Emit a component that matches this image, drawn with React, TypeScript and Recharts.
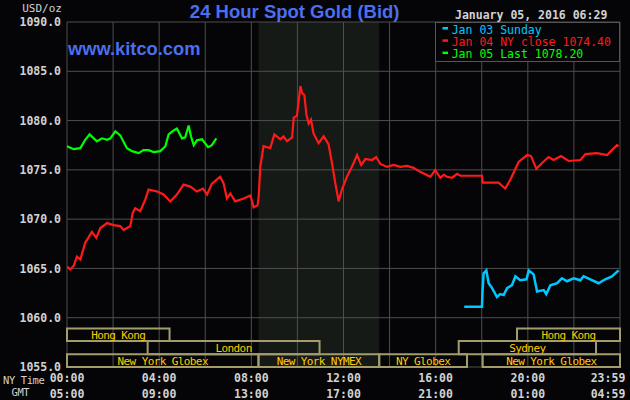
import React from "react";
import { LineChart, Line, XAxis, YAxis, CartesianGrid, ReferenceArea, Legend } from "recharts";

// hours after midnight NY time
const yTicks = [1055, 1060, 1065, 1070, 1075, 1080, 1085, 1090];
const xTicks = [0, 2, 4, 6, 8, 10, 12, 14, 16, 18, 20, 22, 24];
const nyTimeLabels = ["00:00", "04:00", "08:00", "12:00", "16:00", "20:00", "23:59"];
const gmtLabels = ["05:00", "09:00", "13:00", "17:00", "21:00", "01:00", "04:59"];

const jan03Hours = [17.24, 18.01, 18.03, 18.08, 18.2, 18.3, 18.45, 18.66, 18.8, 18.95, 19.1, 19.31, 19.46, 19.67, 19.94, 20.04, 20.25, 20.4, 20.69, 20.8, 20.98, 21.27, 21.48, 21.7, 21.99, 22.28, 22.42, 22.71, 23.07, 23.36, 23.65, 23.94];
const jan03Prices = [1061.1, 1061.1, 1062.5, 1064.5, 1064.8, 1063.5, 1063.0, 1062.1, 1062.4, 1062.3, 1063.0, 1063.3, 1064.2, 1063.8, 1063.9, 1064.8, 1064.4, 1062.65, 1062.8, 1062.4, 1063.3, 1063.5, 1064.0, 1063.7, 1064.0, 1063.8, 1064.2, 1063.9, 1063.5, 1063.9, 1064.2, 1064.8];

const jan04Hours = [0, 0.14, 0.3, 0.43, 0.58, 0.79, 1.08, 1.27, 1.45, 1.74, 2.02, 2.31, 2.46, 2.75, 2.85, 2.96, 3.18, 3.4, 3.54, 3.91, 4.19, 4.48, 4.77, 5.06, 5.35, 5.64, 5.9, 6.08, 6.29, 6.65, 6.8, 6.94, 7.09, 7.3, 7.67, 7.96, 8.1, 8.27, 8.32, 8.39, 8.53, 8.82, 9.0, 9.26, 9.4, 9.55, 9.77, 9.84, 9.98, 10.05, 10.13, 10.2, 10.3, 10.39, 10.49, 10.59, 10.7, 10.92, 11.14, 11.35, 11.5, 11.64, 11.79, 11.93, 12.15, 12.3, 12.44, 12.59, 12.77, 12.95, 13.24, 13.42, 13.6, 13.89, 14.17, 14.47, 14.76, 15.04, 15.33, 15.77, 15.98, 16.2, 16.35, 16.49, 16.71, 16.93, 17.07, 18.01, 18.04, 18.37, 18.73, 19.02, 19.24, 19.6, 19.97, 20.14, 20.37, 20.62, 20.9, 21.12, 21.44, 21.77, 22.28, 22.5, 23.0, 23.44, 23.65, 23.87, 23.94];
const jan04Prices = [1065.2, 1064.9, 1065.3, 1066.2, 1065.9, 1067.6, 1068.7, 1068.1, 1069.1, 1069.6, 1069.4, 1069.3, 1068.9, 1069.3, 1070.6, 1071.1, 1070.8, 1072.0, 1073.0, 1072.8, 1072.5, 1071.8, 1072.5, 1073.5, 1073.3, 1072.8, 1073.1, 1072.5, 1073.6, 1074.3, 1073.6, 1072.1, 1072.6, 1071.8, 1072.1, 1072.4, 1071.2, 1071.4, 1072.3, 1075.3, 1077.4, 1077.2, 1078.6, 1078.1, 1078.4, 1077.9, 1078.3, 1080.3, 1080.5, 1081.9, 1083.5, 1082.8, 1082.6, 1080.6, 1079.7, 1080.1, 1078.7, 1077.7, 1078.4, 1077.6, 1075.7, 1073.7, 1071.8, 1073.0, 1074.3, 1075.0, 1075.7, 1076.5, 1075.5, 1076.1, 1076.0, 1076.3, 1075.6, 1075.3, 1075.5, 1075.3, 1075.4, 1075.2, 1074.8, 1074.3, 1075.0, 1074.2, 1074.5, 1074.3, 1074.2, 1074.6, 1074.4, 1074.4, 1073.7, 1073.7, 1073.7, 1073.1, 1074.0, 1075.8, 1076.5, 1076.4, 1075.1, 1075.7, 1076.3, 1076.0, 1076.4, 1075.9, 1076.0, 1076.6, 1076.7, 1076.5, 1077.0, 1077.5, 1077.4];

const jan05Hours = [0, 0.29, 0.58, 0.79, 0.98, 1.3, 1.52, 1.74, 1.88, 2.1, 2.31, 2.6, 2.82, 3.11, 3.32, 3.54, 3.76, 4.05, 4.27, 4.41, 4.63, 4.77, 4.99, 5.13, 5.28, 5.38, 5.5, 5.64, 5.86, 6.12, 6.29, 6.48];
const jan05Prices = [1077.4, 1077.1, 1077.2, 1078.05, 1078.6, 1077.9, 1078.2, 1078.05, 1078.2, 1078.9, 1078.5, 1077.2, 1076.9, 1076.7, 1077.0, 1077.0, 1076.8, 1076.9, 1077.4, 1078.6, 1079.0, 1079.2, 1078.2, 1078.3, 1079.5, 1078.4, 1077.5, 1078.0, 1078.1, 1077.3, 1077.5, 1078.2];

const sessionNames = ["Hong Kong", "London", "New York Globex", "New York NYMEX", "NY Globex", "Sydney", "Hong Kong", "New York Globex"];
const sessionStart = [0, 3.5, 0, 8.31, 13.55, 17.0, 19.53, 18.04];
const sessionEnd = [4.45, 10.96, 8.31, 13.55, 17.36, 22.96, 24, 24];
const sessionRow = [0, 1, 2, 2, 2, 1, 0, 2];
const nymexStart = 8.31;
const nymexEnd = 13.55;

const zip = (hs: number[], ps: number[]) => hs.map((h, i) => ({ h, price: ps[i] }));
const jan03 = zip(jan03Hours, jan03Prices);
const jan04 = zip(jan04Hours, jan04Prices);
const jan05 = zip(jan05Hours, jan05Prices);

const rowEdges = [1058.9, 1057.65, 1056.3, 1055.0];
const mono = "'DejaVu Sans Mono', monospace";
const sans = "'Liberation Sans', Arial, sans-serif";

function TimeTick({ x, payload }: any) {
  const h = payload.value;
  if (h % 4 !== 0) return <g />;
  const i = h / 4;
  const tx = h === 24 ? x - 12 : x;
  return (
    <g fill="#d2d2d2" fontFamily={mono} fontSize={11.5} fontWeight="bold" textAnchor="middle">
      <text x={tx} y={382}>{nyTimeLabels[i]}</text>
      <text x={tx} y={397.5}>{gmtLabels[i]}</text>
    </g>
  );
}

const sessionLabel = (text: string) => ({ viewBox }: any) => (
  <text
    x={viewBox.x + viewBox.width / 2}
    y={viewBox.y + viewBox.height / 2 + 4}
    textAnchor="middle"
    fill="#ffcc00"
    fontFamily={mono}
    fontSize={11}
    letterSpacing={-0.6}
  >
    {text}
  </text>
);

function LegendBox({ payload }: any) {
  return (
    <svg width={185} height={40} style={{ display: "block" }}>
      <rect x={0.5} y={0.5} width={184} height={39} fill="#050507" stroke="#555" />
      {(payload || []).map((p: any, i: number) => (
        <g key={p.value}>
          <rect x={7.5} y={5 + i * 12.3} width={5.5} height={2.5} fill={p.color} />
          <text x={16.7} y={11.5 + i * 12.3} fill={p.color} fontFamily={mono} fontSize={11.5}>
            {p.value}
          </text>
        </g>
      ))}
    </svg>
  );
}

export default function App() {
  return (
    <div style={{ position: "absolute", left: 0, top: 0, width: 630, height: 400, background: "#050507" }}>
      <LineChart width={630} height={400} margin={{ top: 22, right: 10, bottom: 0, left: 0 }}>
        <ReferenceArea x1={nymexStart} x2={nymexEnd} y1={1055} y2={1090} fill="#161a16" fillOpacity={1} stroke="none" zIndex={-150} />
        <CartesianGrid stroke="#4e4e4e" />
        <XAxis
          type="number"
          dataKey="h"
          domain={[0, 24]}
          ticks={xTicks}
          interval={0}
          height={33}
          axisLine={false}
          tickLine={false}
          tick={<TimeTick />}
          allowDataOverflow
        />
        <YAxis
          type="number"
          domain={[1055, 1090]}
          ticks={yTicks}
          interval={0}
          width={67}
          axisLine={false}
          tickLine={false}
          tickSize={0}
          tickMargin={6}
          tickFormatter={(v) => v.toFixed(1)}
          tick={{ fill: "#d2d2d2", fontFamily: mono, fontSize: 11.5, fontWeight: "bold" }}
          allowDataOverflow
        />
        {sessionNames.map((name, i) => (
          <ReferenceArea
            key={i}
            x1={sessionStart[i]}
            x2={sessionEnd[i]}
            y1={rowEdges[sessionRow[i]]}
            y2={rowEdges[sessionRow[i] + 1]}
            fill="none"
            stroke="#a39d6c"
            strokeWidth={2}
            label={sessionLabel(name)}
          />
        ))}
        <Line data={jan03} dataKey="price" name="Jan 03 Sunday" stroke="#00c8ff" strokeWidth={2.5} dot={false} isAnimationActive={false} />
        <Line data={jan04} dataKey="price" name="Jan 04 NY close 1074.40" stroke="#ff1a1a" strokeWidth={2.2} dot={false} isAnimationActive={false} />
        <Line data={jan05} dataKey="price" name="Jan 05 Last 1078.20" stroke="#00ff00" strokeWidth={2.2} dot={false} isAnimationActive={false} />
        <Legend
          layout="horizontal"
          verticalAlign="middle"
          align="center"
          width={185}
          height={40}
          wrapperStyle={{ left: 435, top: 22, width: 185, height: 40 }}
          content={<LegendBox />}
        />
        <text x={294.7} y={17.5} textAnchor="middle" fill="#4c6ff0" fontFamily={sans} fontSize={18.5} fontWeight="bold">
          24 Hour Spot Gold (Bid)
        </text>
        <text x={68} y={55} fill="#4c6ff0" fontFamily={sans} fontSize={18.3} fontWeight="bold">
          www.kitco.com
        </text>
        <text x={62} y={12} textAnchor="end" fill="#d2d2d2" fontFamily={mono} fontSize={11}>
          USD/oz
        </text>
        <text x={455} y={19} fill="#d2d2d2" fontFamily={mono} fontSize={11.5} fontWeight="bold">
          January 05, 2016 06:29
        </text>
        <text x={3} y={384} fill="#d2d2d2" fontFamily={mono} fontSize={10.5} letterSpacing={-0.4}>
          NY Time
        </text>
        <text x={11.5} y={396} fill="#d2d2d2" fontFamily={mono} fontSize={10.5} letterSpacing={-0.4}>
          GMT
        </text>
      </LineChart>
    </div>
  );
}
